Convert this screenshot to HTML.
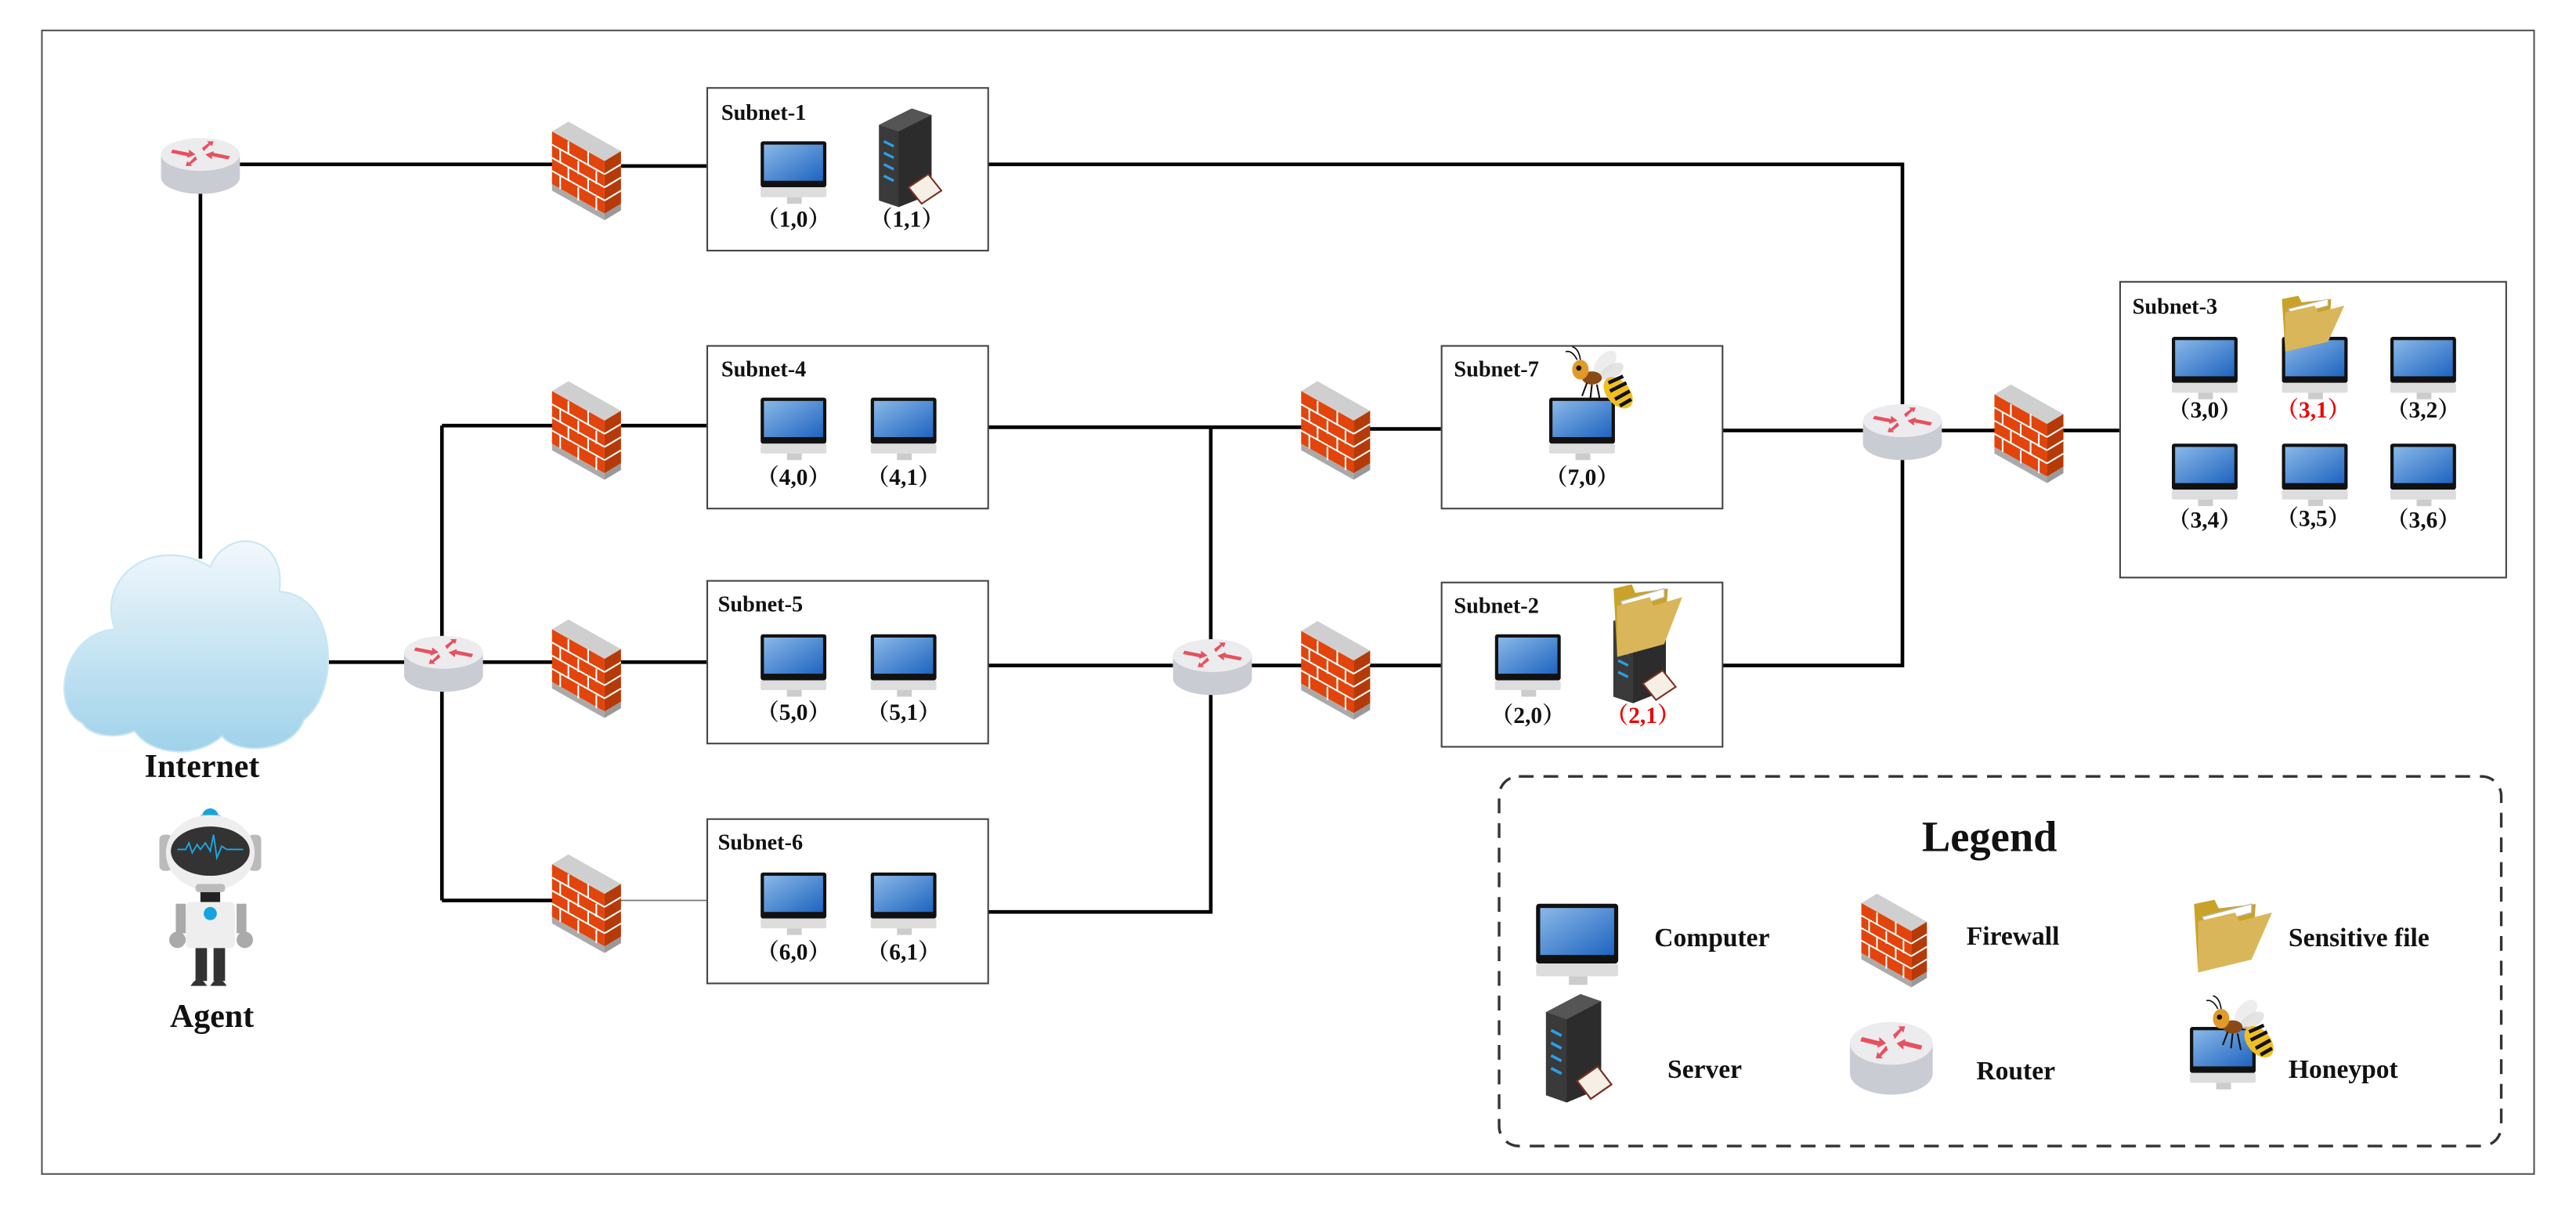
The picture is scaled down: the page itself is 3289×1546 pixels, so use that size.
<!DOCTYPE html>
<html><head><meta charset="utf-8"><style>html,body{margin:0;padding:0;background:#fff}svg{display:block}text{font-family:"Liberation Serif","Noto Serif CJK SC",serif;font-weight:bold;fill:#111}</style></head>
<body>
<svg width="3289" height="1546" viewBox="0 0 1568 737" xmlns="http://www.w3.org/2000/svg">
<defs>
<linearGradient id="scr" x1="0" y1="0" x2="1" y2="1"><stop offset="0" stop-color="#8ab8e8"/><stop offset="1" stop-color="#1e64c0"/></linearGradient>
<linearGradient id="cl" x1="0" y1="0" x2="0" y2="1"><stop offset="0" stop-color="#f2f8fc"/><stop offset="1" stop-color="#9fd2ea"/></linearGradient>
<g id="pc">
<rect x="0" y="0" width="40" height="28" rx="1.5" fill="#111"/>
<rect x="2" y="2" width="36" height="22" fill="url(#scr)"/>
<rect x="0" y="28" width="40" height="6" rx="1" fill="#ddd"/>
<rect x="16" y="34" width="9" height="4" fill="#ccc"/>
</g>
<g id="fw">
<polygon points="0,8 10,2 42,20 32,26" fill="#cfcfcf"/>
<polygon points="0,8 32,26 32,58 0,40" fill="#e2440c"/>
<polygon points="32,26 42,20 42,52 32,58" fill="#b53a08"/>
<polygon points="0,40 32,58 32,62 0,44" fill="#aaa"/>
<polygon points="32,58 42,52 42,56 32,62" fill="#999"/>
<g stroke="#fff" stroke-width="1" fill="none">
<path d="M0,16 L32,34 M0,24 L32,42 M0,32 L32,50 M32,34 L42,28 M32,42 L42,36 M32,50 L42,44"/>
<path d="M10,14 V22 M22,20 V28 M5,19 V27 M16,26 V34 M27,32 V40 M10,30 V38 M22,36 V44 M5,35 V43 M16,42 V50 M27,48 V56"/>
</g>
</g>
<g id="rt">
<path d="M1,10 V24 A24,10 0 0 0 49,24 V10 Z" fill="#c9ccd3"/>
<ellipse cx="25" cy="10" rx="24" ry="10" fill="#ececef"/>
<g fill="#e8505e">
<polygon points="8,7 18,9 18,7 22,10 17,12 17,11 7,9"/>
<polygon points="42,13 32,11 32,13 28,10 33,8 33,9 43,11"/>
<polygon points="26,6 30,3 29,2 33,2 32,5 31,4 27,8"/>
<polygon points="23,13 19,16 20,17 16,17 17,14 18,15 22,11"/>
</g>
</g>
<g id="sv">
<polygon points="0,10 20,0 32,4 32,52 12,60 0,56" fill="#3a3a3a"/>
<polygon points="0,10 20,0 32,4 12,14" fill="#555"/>
<polygon points="12,14 32,4 32,52 12,60" fill="#2c2c2c"/>
<g stroke="#2aa0e8" stroke-width="1.6"><path d="M3,20 L9,23 M3,27 L9,30 M3,34 L9,37 M3,41 L9,44"/></g>
<polygon points="18,48 30,40 38,50 26,58" fill="#f5efe6" stroke="#7a3020" stroke-width="1"/>
</g>
<g id="fd">
<polygon points="2,4 12,2 14,6 32,4 30,30 4,36" fill="#c9a22a"/>
<polygon points="6,10 30,4 30,8 8,14" fill="#fff" stroke="#bbb" stroke-width="0.5"/>
<polygon points="4,12 22,8 24,12 40,8 30,30 4,36" fill="#dab65a"/>
</g>
<g id="bee">
<ellipse cx="22" cy="6" rx="5" ry="9" fill="#e8e8e8" opacity="0.8" transform="rotate(40 22 6)"/>
<ellipse cx="26" cy="11" rx="4" ry="8" fill="#ddd" opacity="0.8" transform="rotate(60 26 11)"/>
<ellipse cx="30" cy="24" rx="7" ry="11" fill="#f0c020" transform="rotate(-40 30 24)"/>
<g stroke="#111" stroke-width="2.2"><path d="M24,18 L33,14 M25,23 L35,18 M28,28 L37,23 M31,32 L38,28"/></g>
<ellipse cx="14" cy="15" rx="6" ry="4" fill="#8a4a16"/>
<ellipse cx="7" cy="10" rx="5" ry="6" fill="#e09a2a"/>
<circle cx="6" cy="9" r="1.6" fill="#111"/>
<path d="M5,4 Q2,-2 -2,-1 M7,4 Q6,-3 2,-4" stroke="#111" stroke-width="0.8" fill="none"/>
<path d="M11,18 L8,26 M14,19 L13,28 M17,19 L19,29" stroke="#111" stroke-width="1"/>
</g>
</defs>

<rect x="25.5" y="18.5" width="1517" height="696" fill="none" stroke="#555" stroke-width="1"/>

<g stroke="#000" stroke-width="2.2" fill="none">
<path d="M146,100 H340"/><path d="M378,101 H430"/>
<path d="M601,100 H1158 V405 H1048"/>
<path d="M122,112 V340"/>
<path d="M200,403 H247"/>
<path d="M269,259 V548"/>
<path d="M269,259 H340"/><path d="M378,259 H430"/>
<path d="M269,403 H340"/><path d="M378,403 H430"/>
<path d="M269,548 H340"/>
<path d="M601,260 H795"/><path d="M832,261 H877"/>
<path d="M737,260 V555 H601"/>
<path d="M601,405 H714"/><path d="M760,405 H795"/><path d="M832,405 H877"/>
<path d="M1048,262 H1134"/><path d="M1180,262 H1218"/><path d="M1256,262 H1290"/>
</g>
<path d="M378,548 H430" stroke="#777" stroke-width="0.8"/>

<g fill="#fff" stroke="#444" stroke-width="1">
<rect x="430.5" y="53.5" width="171" height="99"/>
<rect x="430.5" y="210.5" width="171" height="99"/>
<rect x="430.5" y="353.5" width="171" height="99"/>
<rect x="430.5" y="498.5" width="171" height="100"/>
<rect x="877.5" y="210.5" width="171" height="99"/>
<rect x="877.5" y="354.5" width="171" height="100"/>
<rect x="1290.5" y="171.5" width="235" height="180"/>
</g>
<rect x="912.5" y="472.5" width="610" height="225" rx="12" fill="none" stroke="#333" stroke-width="1.6" stroke-dasharray="9,6"/>

<use href="#rt" x="97" y="84"/>
<use href="#rt" x="245" y="387"/>
<use href="#rt" x="713" y="389"/>
<use href="#rt" x="1133" y="246"/>
<use href="#fw" x="336" y="72"/>
<use href="#fw" x="336" y="230"/>
<use href="#fw" x="336" y="375"/>
<use href="#fw" x="336" y="518"/>
<use href="#fw" x="792" y="230"/>
<use href="#fw" x="792" y="376"/>
<use href="#fw" x="1214" y="232"/>

<g fill="url(#cl)" stroke="#c8e6f4" stroke-width="1">
<path d="M50,440 C30,430 38,385 70,383 C58,350 95,325 128,345 C138,320 175,325 170,360 C205,362 208,420 185,438 C178,458 145,460 135,448 C120,462 92,460 82,445 C70,450 55,448 50,440 Z"/>
</g>
<text x="123" y="473" font-size="20" text-anchor="middle">Internet</text>

<g>
<path d="M123,497 a5,5 0 0 1 10,0 z" fill="#16a4e0"/>
<rect x="122" y="496" width="12" height="3" fill="#aaa"/>
<rect x="97" y="508" width="8" height="22" rx="3" fill="#bbb"/>
<rect x="151" y="508" width="8" height="22" rx="3" fill="#bbb"/>
<ellipse cx="128" cy="519" rx="27" ry="23" fill="#eee"/>
<ellipse cx="128" cy="518" rx="24" ry="15" fill="#333"/>
<path d="M108,517 h5 l2,-4 l2,6 l3,-5 l2,3 l3,-4 l3,5 l2,-10 l2,14 l3,-7 l3,2 h10" stroke="#1aa8e8" stroke-width="0.9" fill="none"/>
<rect x="119" y="538" width="18" height="5" rx="2" fill="#bbb"/>
<rect x="122" y="543" width="12" height="6" fill="#222"/>
<rect x="113" y="549" width="30" height="28" rx="3" fill="#eee"/>
<circle cx="128" cy="556" r="4" fill="#16a4e0"/>
<rect x="107" y="550" width="6" height="18" fill="#aaa"/>
<rect x="144" y="550" width="6" height="18" fill="#aaa"/>
<circle cx="108" cy="572" r="5" fill="#aaa"/>
<circle cx="149" cy="572" r="5" fill="#aaa"/>
<rect x="119" y="577" width="7" height="20" fill="#333"/>
<rect x="130" y="577" width="7" height="20" fill="#333"/>
<path d="M116,600 q5,-8 10,0z M128,600 q5,-8 10,0z" fill="#333"/>
</g>
<text x="129" y="625" font-size="20" text-anchor="middle">Agent</text>

<g font-size="13.5">
<text x="439" y="73">Subnet-1</text>
<text x="439" y="229">Subnet-4</text>
<text x="437" y="372">Subnet-5</text>
<text x="437" y="517">Subnet-6</text>
<text x="885" y="229">Subnet-7</text>
<text x="885" y="373">Subnet-2</text>
<text x="1298" y="191">Subnet-3</text>
</g>

<use href="#pc" x="463" y="86"/>
<use href="#sv" x="535" y="66"/>
<use href="#pc" x="463" y="242"/><use href="#pc" x="530" y="242"/>
<use href="#pc" x="463" y="386"/><use href="#pc" x="530" y="386"/>
<use href="#pc" x="463" y="531"/><use href="#pc" x="530" y="531"/>
<use href="#pc" x="943" y="242"/>
<use href="#bee" x="955" y="215"/>
<use href="#pc" x="910" y="386"/>
<use href="#sv" x="982" y="368"/>
<g transform="translate(980,353) scale(1.1,1.3)"><use href="#fd"/></g>
<use href="#pc" x="1322" y="205"/><use href="#pc" x="1389" y="205"/><use href="#pc" x="1455" y="205"/>
<use href="#fd" x="1387" y="178"/>
<use href="#pc" x="1322" y="270"/><use href="#pc" x="1389" y="270"/><use href="#pc" x="1455" y="270"/>

<g font-size="14" text-anchor="middle">
<text x="483" y="138">（1,0）</text><text x="552" y="138">（1,1）</text>
<text x="483" y="295">（4,0）</text><text x="550" y="295">（4,1）</text>
<text x="483" y="438">（5,0）</text><text x="550" y="438">（5,1）</text>
<text x="483" y="584">（6,0）</text><text x="550" y="584">（6,1）</text>
<text x="963" y="295">（7,0）</text>
<text x="930" y="440">（2,0）</text><text x="1000" y="440" style="fill:#e00">（2,1）</text>
<text x="1342" y="254">（3,0）</text><text x="1408" y="254" style="fill:#e00">（3,1）</text><text x="1475" y="254">（3,2）</text>
<text x="1342" y="321">（3,4）</text><text x="1408" y="320">（3,5）</text><text x="1475" y="321">（3,6）</text>
</g>

<text x="1211" y="518" font-size="26" text-anchor="middle">Legend</text>
<g transform="translate(935,550) scale(1.25,1.3)"><use href="#pc"/></g>
<g transform="translate(1133,542) scale(0.95,0.95)"><use href="#fw"/></g>
<g transform="translate(1333,545) scale(1.25,1.3)"><use href="#fd"/></g>
<g transform="translate(941,605) scale(1.05,1.1)"><use href="#sv"/></g>
<g transform="translate(1125,622) scale(1.05,1.3)"><use href="#rt"/></g>
<use href="#pc" x="1333" y="625"/>
<use href="#bee" x="1345" y="610"/>
<g font-size="16">
<text x="1007" y="576">Computer</text>
<text x="1197" y="575">Firewall</text>
<text x="1393" y="576">Sensitive file</text>
<text x="1015" y="656">Server</text>
<text x="1203" y="657">Router</text>
<text x="1393" y="656">Honeypot</text>
</g>
</svg>
</body></html>
